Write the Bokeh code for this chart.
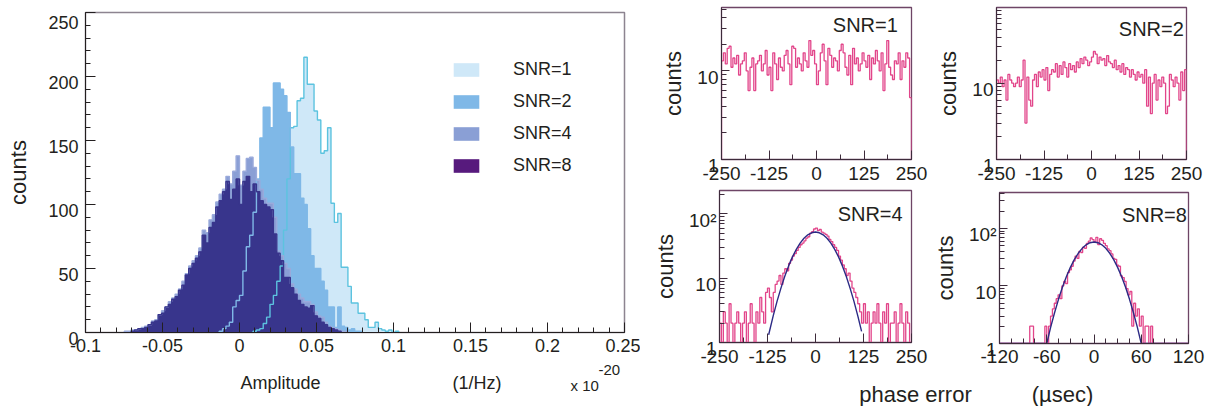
from bokeh.plotting import figure
from bokeh.layouts import row, column
from bokeh.models import Range1d, FixedTicker, Legend, LegendItem
from bokeh.embed import file_html
from bokeh.resources import INLINE
from bokeh.core.properties import value

FONT = "Liberation Sans"
INK = "#231f20"

# ---------------- left panel: amplitude histograms ----------------
AMP_BIN = 0.0022           # bin width; bin k spans [k*AMP_BIN, (k+1)*AMP_BIN]
snr1_first_bin = 4
snr1_counts = [1, 2, 3, 7, 12, 22, 29, 40, 52, 80, 120, 160, 161, 181, 183, 215, 194, 194,
               173, 166, 140, 142, 160, 101, 86, 93, 51, 51, 36, 23, 23, 15, 15, 10, 4, 4,
               8, 3, 2, 1, 2, 0, 1]
snr2_first_bin = -6
snr2_counts = [1, 3, 5, 8, 20, 25, 29, 48, 67, 76, 94, 120, 152, 176, 176, 160, 195, 195,
               190, 185, 172, 145, 124, 124, 105, 100, 81, 60, 50, 50, 40, 33, 20, 20, 4, 20,
               5, 4, 2, 3, 1, 1]
snr4_first_bin = -34
snr4_counts = [1, 1, 2, 2, 3, 4, 5, 6, 9, 10,
               14, 17, 20, 24, 27, 30, 34, 40, 46, 52,
               56, 60, 66, 80, 78, 88, 92, 102, 108, 112,
               122, 116, 126, 138, 115, 126, 136, 137, 129, 119,
               112, 105, 101, 101, 90, 64, 60, 54, 50, 38,
               34, 30, 27, 24, 24, 22, 16, 13, 12, 8, 5, 4, 3, 2, 1, 1]
snr8_first_bin = -32
snr8_counts = [1, 2, 3, 3, 4, 6, 8, 9, 14, 15,
               20, 22, 26, 28, 33, 37, 45, 50, 54, 58,
               63, 76, 70, 82, 86, 98, 103, 110, 118, 104,
               112, 120, 100, 118, 122, 110, 116, 110, 103, 100,
               98, 96, 77, 62, 56, 43, 43, 35, 30, 25,
               22, 20, 19, 21, 13, 11, 8, 6, 4, 3, 2, 1]
amp_labels = ["SNR=1", "SNR=2", "SNR=4", "SNR=8"]
amp_ticks = [-0.1, -0.05, 0, 0.05, 0.1, 0.15, 0.2, 0.25]
amp_tick_text = ["-0.1", "-0.05", "0", "0.05", "0.1", "0.15", "0.2", "0.25"]
count_ticks = [0, 50, 100, 150, 200, 250]
count_tick_text = ["0", "50", "100", "150", "200", "250"]

# ---------------- right panels: phase error histograms ----------------
phase_start = -250
phase_bin = 5
phase_snr1 = [13, 16, 12, 18, 19, 11, 14, 12, 15, 9,
              12, 13, 16, 10, 6, 11, 14, 6, 12, 13,
              15, 10, 12, 17, 9, 11, 6, 16, 12, 8,
              14, 11, 10, 15, 17, 12, 7, 19, 18, 11,
              14, 12, 10, 16, 13, 11, 22, 15, 17, 12,
              7, 10, 16, 20, 13, 7, 18, 15, 11, 14,
              13, 10, 17, 20, 16, 11, 9, 15, 7, 18,
              12, 14, 10, 12, 16, 13, 11, 15, 8, 14,
              12, 17, 13, 10, 16, 6, 12, 22, 11, 9,
              8, 13, 12, 16, 8, 13, 11, 16, 14, 5]
phase_snr2 = [11, 10, 12, 9, 11, 6, 13, 11, 10, 9,
              10, 12, 9, 11, 20, 3, 12, 6, 5, 11,
              13, 9, 14, 12, 15, 11, 16, 8, 13, 15,
              14, 18, 12, 17, 13, 19, 16, 12, 18, 15,
              17, 14, 19, 16, 21, 18, 22, 20, 17, 19,
              22, 26, 24, 18, 22, 20, 21, 17, 23, 19,
              18, 16, 20, 15, 17, 14, 18, 13, 16, 15,
              12, 15, 13, 11, 14, 12, 13, 10, 15, 5,
              12, 4, 10, 13, 6, 11, 9, 12, 10, 4,
              5, 13, 11, 9, 12, 10, 6, 14, 8, 15]
phase_snr4 = [2, 1, 3, 2, 1, 4, 2, 1, 2, 3,
              2, 1, 2, 3, 1, 2, 4, 2, 1, 3,
              2, 5, 3, 2, 6, 7, 5, 3, 6, 8,
              9, 11, 8, 12, 14, 13, 17, 19, 22, 24,
              27, 30, 33, 35, 38, 42, 44, 50, 53, 58,
              60, 55, 57, 52, 50, 48, 45, 40, 37, 33,
              30, 27, 22, 19, 16, 14, 11, 12, 9, 7,
              6, 5, 4, 3, 2, 4, 2, 3, 1, 2,
              3, 2, 4, 2, 1, 3, 2, 4, 1, 2,
              2, 3, 1, 2, 4, 2, 1, 3, 2, 1]
phase8_start = -120
phase8_bin = 2.4
phase_snr8 = [1, 1, 1, 1, 1, 1, 1, 1, 1, 1,
              1, 1, 1, 1, 1, 1, 2, 2, 1, 1,
              1, 1, 1, 1, 2, 1, 2, 3, 4, 5,
              6, 7, 6, 10, 12, 11, 17, 19, 22, 27,
              33, 30, 40, 38, 47, 45, 55, 60, 68, 64,
              58, 70, 52, 66, 62, 55, 50, 44, 41, 36,
              30, 29, 23, 22, 15, 14, 12, 9, 7, 8,
              2, 5, 3, 4, 2, 3, 1, 2, 2, 1,
              2, 1, 1, 1, 0, 0, 0, 0, 0, 0,
              0, 0, 0, 0, 0, 0, 0, 0, 0, 0]
fit4_x = [-122, -110, -100, -90, -80, -70, -60, -50, -40, -30, -20, -10, 0,
          10, 20, 30, 40, 50, 60, 70, 80, 90, 100, 110, 120]
fit4_y = [1.32, 2.62, 4.4, 7.0, 10.7, 15.5, 21.4, 28.0, 35.0, 41.6, 47.1, 50.7, 52.0,
          50.7, 47.1, 41.6, 35.0, 28.0, 21.4, 15.5, 10.7, 7.0, 4.4, 2.62, 1.49]
fit8_x = [-120, -60, -55, -50, -45, -40, -35, -30, -25, -20, -15, -10, -5, 0,
          5, 10, 15, 20, 25, 30, 35, 40, 45, 50, 55, 60, 120]
fit8_y = [1.0, 1.0, 1.92, 3.46, 5.91, 9.55, 14.6, 21.0, 28.7, 36.9, 45.0, 51.8, 56.4, 58.0,
          56.4, 51.8, 45.0, 36.9, 28.7, 21.0, 14.6, 9.55, 5.91, 3.46, 1.92, 1.0, 1.0]
panel_labels = ["SNR=1", "SNR=2", "SNR=4", "SNR=8"]


def steps(first_edge, width, counts, floor=None):
    xs, ys = [], []
    for i, c in enumerate(counts):
        left = first_edge + i * width
        xs += [left, left + width]
        ys += [c, c]
    base = 0
    if floor is not None:
        ys = [max(v, floor) for v in ys]
        base = floor
    return [xs[0]] + xs + [xs[-1]], [base] + ys + [base]


def style_axis(ax, size, tick_in=8, minor_in=4, color=INK, standoff=5):
    ax.major_tick_in = tick_in
    ax.major_tick_out = 0
    ax.minor_tick_in = minor_in
    ax.minor_tick_out = 0
    ax.axis_line_color = color
    ax.major_tick_line_color = color
    ax.minor_tick_line_color = color
    ax.major_label_text_font = FONT
    ax.major_label_text_font_size = size
    ax.major_label_text_color = INK
    ax.major_label_standoff = standoff
    ax.axis_label_text_font = FONT
    ax.axis_label_text_font_style = "normal"
    ax.axis_label_text_color = INK


def text_strip(width, height):
    s = figure(width=width, height=height, x_range=Range1d(0, width), y_range=Range1d(0, height),
               toolbar_location=None, output_backend="svg", min_border=0, frame_align=False,
               x_axis_location=None, y_axis_location=None)
    s.grid.visible = False
    s.outline_line_color = None
    return s


# ================= left main panel =================
p = figure(width=640, height=360, x_range=Range1d(-0.1, 0.25), y_range=Range1d(0, 250),
           toolbar_location=None, output_backend="svg", frame_align=False,
           min_border_left=85, min_border_right=16, min_border_top=12, min_border_bottom=28)
p.grid.visible = False
p.outline_line_color = "#8d8490"
p.outline_line_width = 1.5

series = [
    (snr1_first_bin, snr1_counts, "#cfe8f8", "#5cc3df"),
    (snr2_first_bin, snr2_counts, "#7fb8e7", "#7fb8e7"),
    (snr4_first_bin, snr4_counts, "#8a9fd5", "#9aaadb"),
    (snr8_first_bin, snr8_counts, "#571a7d", "#38358c"),
]
fills = []
outlines = []
for first, counts, fc, lc in series:
    xs, ys = steps(first * AMP_BIN, AMP_BIN, counts)
    fills.append(p.varea(x=xs, y1=0, y2=ys, fill_color=fc))
    outlines.append((xs, ys, lc))
# SNR=8 appears navy where it overlays the other histograms
xs8, ys8 = outlines[3][0], outlines[3][1]
p.varea(x=xs8, y1=0, y2=ys8, fill_color="#38358c")
for xs, ys, lc in outlines:
    p.line(xs, ys, line_color=lc, line_width=1.4)

legend = Legend(items=[LegendItem(label=amp_labels[i], renderers=[fills[i]]) for i in range(4)],
                location=(365, 156), glyph_width=32, glyph_height=17, label_standoff=31,
                spacing=11, padding=0, margin=0, border_line_alpha=0, background_fill_alpha=0,
                label_text_font=FONT, label_text_font_size="18px", label_text_color=INK,
                label_height=17)
p.add_layout(legend)

xa = p.xaxis[0]
style_axis(xa, "18px", tick_in=10, minor_in=5, standoff=6)
xa.ticker = FixedTicker(ticks=amp_ticks, minor_ticks=[round(-0.1 + 0.01 * i, 2) for i in range(36)])
xa.major_label_overrides = dict(zip(amp_ticks, amp_tick_text))
ya = p.yaxis[0]
style_axis(ya, "18px", tick_in=10, minor_in=5, standoff=7)
ya.ticker = FixedTicker(ticks=count_ticks, minor_ticks=list(range(0, 251, 10)))
# ROOT draws the y labels slightly below their ticks: a short empty first line
ya.major_label_overrides = {t: "\n" + s for t, s in zip(count_ticks, count_tick_text)}
ya.major_label_text_line_height = 0.6
ya.axis_label = "counts"
ya.axis_label_text_font_size = "22px"
ya.axis_label_standoff = 14

ls = text_strip(640, 46)
ls.text(x=[240, 452], y=[24, 24], text=["Amplitude", "(1/Hz)"], text_font=value(FONT),
        text_font_size="18px", text_color=INK, text_baseline="alphabetic")
ls.text(x=[570], y=[21], text=["x 10"], text_font=value(FONT), text_font_size="15px",
        text_color=INK, text_baseline="alphabetic")
ls.text(x=[598], y=[37], text=["-20"], text_font=value(FONT), text_font_size="15px",
        text_color=INK, text_baseline="alphabetic")


# ================= right small panels =================
def phase_panel(width, height, mb, xr, yr, xticks, xminor, yticks, yminor, ylab,
                start, binw, counts, label, lab_xy, fit=None, xstand=5):
    f = figure(width=width, height=height, x_range=Range1d(*xr), y_range=Range1d(*yr),
               y_axis_type="log", toolbar_location=None, output_backend="svg",
               frame_align=False,
               min_border_left=mb[0], min_border_right=mb[1], min_border_top=mb[2],
               min_border_bottom=mb[3])
    f.grid.visible = False
    f.outline_line_color = "#6e4566"
    f.outline_line_width = 1.3
    xs, ys = steps(start, binw, counts, floor=1)
    f.line(xs, ys, line_color="#e2458a", line_width=1.3)
    if fit is not None:
        f.line(fit[0], fit[1], line_color="#2c2a85", line_width=1.4)
    f.text(x=[lab_xy[0]], y=[lab_xy[1]], text=[label], text_font=value(FONT),
           text_font_size="20px", text_color=INK, text_align="right", text_baseline="top")
    ax = f.xaxis[0]
    style_axis(ax, "19px", tick_in=9, minor_in=5, color="#3d2b3b", standoff=xstand)
    ax.ticker = FixedTicker(ticks=xticks, minor_ticks=xminor)
    ax.major_label_overrides = {t: ("-%d" % abs(t) if t < 0 else "%d" % t) for t in xticks}
    ay = f.yaxis[0]
    style_axis(ay, "19px", tick_in=8, minor_in=5, color="#3d2b3b", standoff=3)
    ay.ticker = FixedTicker(ticks=yticks, minor_ticks=yminor)
    ay.major_label_overrides = {t: "\n" + s for t, s in zip(yticks, ylab)}
    ay.major_label_text_line_height = 0.6
    ay.axis_label = "counts"
    ay.axis_label_text_font_size = "22px"
    ay.axis_label_standoff = 8
    return f


xt250 = [-250, -125, 0, 125, 250]
xm250 = [-187.5, -62.5, 62.5, 187.5]
xt120 = [-120, -60, 0, 60, 120]
xm120 = [-105, -90, -75, -45, -30, -15, 15, 30, 45, 75, 90, 105]
minor_log = [2, 3, 4, 5, 6, 7, 8, 9, 20, 30, 40, 50, 60, 70, 80, 90, 200, 300, 400]

tl = phase_panel(290, 188, (81, 19, 7, 29), (-250, 250), (1, 52), xt250, xm250,
                 [1, 10], minor_log, ["1", "10"], phase_start, phase_bin, phase_snr1,
                 panel_labels[0], (214, 44), xstand=7)
tr = phase_panel(289, 188, (66, 33, 7, 29), (-250, 250), (1, 98), xt250, xm250,
                 [1, 10], minor_log, ["1", "10"], phase_start, phase_bin, phase_snr2,
                 panel_labels[1], (243, 72), xstand=7)
bl = phase_panel(290, 184, (79, 19, 2, 30), (-250, 250), (1, 230), xt250, xm250,
                 [1, 10, 100], minor_log, ["1", "10", "10²"], phase_start, phase_bin,
                 phase_snr4, panel_labels[2], (227, 146), fit=(fit4_x, fit4_y), xstand=7)
br = phase_panel(289, 184, (68, 31, 4, 29), (-120, 120), (1, 420), xt120, xm120,
                 [1, 10, 100], minor_log, ["1", "10", "10²"], phase8_start, phase8_bin,
                 phase_snr8, panel_labels[3], (118, 260), fit=(fit8_x, fit8_y), xstand=6)

rs = text_strip(579, 34)
rs.text(x=[275, 422], y=[12, 12], text=["phase error", "(µsec)"], text_font=value(FONT),
        text_font_size="22px", text_color=INK, text_align="center", text_baseline="alphabetic")

layout = row(column(p, ls), column(row(tl, tr), row(bl, br), rs))
open("out.html", "w").write(file_html(layout, INLINE))
